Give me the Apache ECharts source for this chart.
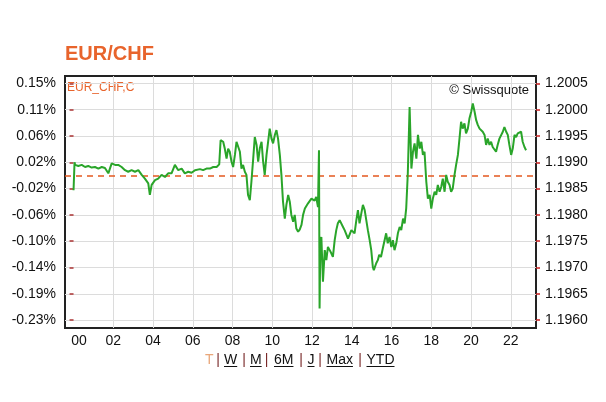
<!DOCTYPE html>
<html>
<head>
<meta charset="utf-8">
<script src="https://cdn.jsdelivr.net/npm/echarts@6/dist/echarts.min.js"></script>
<style>
    html, body { margin: 0; padding: 0; background: #fff; }
    #chart { width: 606px; height: 402px; }
</style>
</head>
<body>
<div id="chart"></div>
<script>
    // hours since midnight
    const hours = [
        0.00, 0.05, 0.08, 0.24, 0.41, 0.58, 0.74, 0.91, 1.08, 1.25, 1.42, 1.58, 1.75, 1.83, 1.92,
        2.09, 2.25, 2.42, 2.59, 2.75, 2.92, 3.09, 3.26, 3.43, 3.59, 3.76, 3.84, 3.93,
        4.10, 4.26, 4.43, 4.60, 4.76, 4.93, 5.10, 5.27, 5.44, 5.60, 5.77, 5.94,
        6.11, 6.19, 6.36, 6.52, 6.69, 6.86, 7.03, 7.20, 7.33, 7.40, 7.53, 7.61, 7.70, 7.78, 7.86, 7.95,
        8.03, 8.12, 8.20, 8.28, 8.37, 8.45, 8.53, 8.62, 8.70, 8.78, 8.87, 8.95,
        9.04, 9.12, 9.21, 9.29, 9.37, 9.46, 9.54, 9.62, 9.71, 9.79, 9.87, 9.96,
        10.04, 10.13, 10.21, 10.29, 10.38, 10.46, 10.54, 10.63, 10.71, 10.80, 10.88, 10.96,
        11.05, 11.13, 11.21, 11.30, 11.38, 11.47, 11.55, 11.64, 11.72, 11.80, 11.88, 11.97,
        12.05, 12.13, 12.21, 12.30, 12.35, 12.38, 12.42, 12.47, 12.55, 12.64, 12.72, 12.80, 12.89, 12.97,
        13.05, 13.14, 13.22, 13.30, 13.39, 13.48, 13.56, 13.64, 13.73, 13.81, 13.89, 13.98,
        14.06, 14.14, 14.23, 14.31, 14.39, 14.48, 14.56, 14.65, 14.73, 14.81, 14.90, 14.98,
        15.06, 15.11, 15.23, 15.31, 15.38, 15.47, 15.56, 15.64, 15.73, 15.81, 15.90, 15.99,
        16.07, 16.15, 16.24, 16.32, 16.41, 16.49, 16.58, 16.66, 16.74, 16.82, 16.91, 17.00,
        17.08, 17.16, 17.25, 17.33, 17.42, 17.50, 17.58, 17.66, 17.75, 17.83, 17.92,
        18.00, 18.08, 18.17, 18.25, 18.33, 18.42, 18.50, 18.58, 18.67, 18.75, 18.83, 18.92,
        19.00, 19.08, 19.17, 19.25, 19.34, 19.42, 19.50, 19.58, 19.67, 19.75, 19.84, 19.92,
        20.01, 20.09, 20.18, 20.26, 20.34, 20.43, 20.51, 20.59, 20.68, 20.76, 20.84, 20.93,
        21.01, 21.09, 21.18, 21.26, 21.34, 21.43, 21.51, 21.60, 21.68, 21.77, 21.85, 21.93,
        22.02, 22.10, 22.19, 22.27, 22.35, 22.44, 22.52, 22.60, 22.69, 22.77
    ]
    const rates = [
        1.19847, 1.19900, 1.19895, 1.19893, 1.19895, 1.19891, 1.19893, 1.19890, 1.19891, 1.19888, 1.19891, 1.19889, 1.19879, 1.19888, 1.19898,
        1.19895, 1.19895, 1.19891, 1.19885, 1.19882, 1.19885, 1.19882, 1.19885, 1.19876, 1.19869, 1.19860, 1.19838, 1.19857,
        1.19866, 1.19869, 1.19876, 1.19872, 1.19879, 1.19879, 1.19895, 1.19885, 1.19888, 1.19879, 1.19882, 1.19880,
        1.19885, 1.19885, 1.19887, 1.19885, 1.19888, 1.19888, 1.19891, 1.19891, 1.19896, 1.19942, 1.19939, 1.19926, 1.19907, 1.19926, 1.19920, 1.19901,
        1.19891, 1.19914, 1.19939, 1.19942, 1.19920, 1.19888, 1.19895, 1.19882, 1.19876, 1.19838, 1.19828, 1.19863,
        1.19907, 1.19948, 1.19933, 1.19901, 1.19926, 1.19939, 1.19901, 1.19876, 1.19914, 1.19939, 1.19964, 1.19945,
        1.19936, 1.19952, 1.19961, 1.19945, 1.19914, 1.19876, 1.19825, 1.19793, 1.19819, 1.19838, 1.19825, 1.19800,
        1.19787, 1.19800, 1.19774, 1.19768, 1.19772, 1.19781, 1.19800, 1.19812, 1.19810, 1.19822, 1.19822, 1.19831,
        1.19830, 1.19827, 1.19834, 1.19815, 1.19923, 1.19622, 1.19752, 1.19758, 1.19673, 1.19733, 1.19714, 1.19739, 1.19733, 1.19727,
        1.19720, 1.19752, 1.19771, 1.19784, 1.19790, 1.19787, 1.19777, 1.19771, 1.19768, 1.19755, 1.19752, 1.19771,
        1.19774, 1.19765, 1.19790, 1.19809, 1.19784, 1.19803, 1.19819, 1.19809, 1.19790, 1.19771, 1.19752, 1.19733,
        1.19701, 1.19695, 1.19708, 1.19714, 1.19724, 1.19720, 1.19736, 1.19733, 1.19765, 1.19746, 1.19758, 1.19739,
        1.19752, 1.19733, 1.19746, 1.19765, 1.19777, 1.19771, 1.19793, 1.19784, 1.19813, 1.19879, 1.20005, 1.19888,
        1.19920, 1.19936, 1.19907, 1.19952, 1.19926, 1.19939, 1.19914, 1.19920, 1.19863, 1.19831, 1.19838,
        1.19812, 1.19831, 1.19844, 1.19838, 1.19857, 1.19844, 1.19853, 1.19869, 1.19844, 1.19876, 1.19863, 1.19857,
        1.19844, 1.19850, 1.19876, 1.19895, 1.19914, 1.19945, 1.19977, 1.19964, 1.19974, 1.19955, 1.19964, 1.19983,
        1.19996, 1.20012, 1.19996, 1.19980, 1.19971, 1.19964, 1.19967, 1.19958, 1.19952, 1.19933, 1.19945, 1.19933,
        1.19939, 1.19929, 1.19926, 1.19920, 1.19933, 1.19945, 1.19948, 1.19958, 1.19967, 1.19958, 1.19952, 1.19933,
        1.19914, 1.19926, 1.19952, 1.19948, 1.19955, 1.19952, 1.19958, 1.19939, 1.19929, 1.19923
    ]
    const refRate = 1.19874
    const hourLabelTicks = [0, 2, 4, 6, 8, 10, 12, 14, 16, 18, 20, 22]
    const hourGridTicks = [2, 4, 6, 8, 10, 12, 14, 16, 18, 20, 22]
    const hourLabels = ['00', '02', '04', '06', '08', '10', '12', '14', '16', '18', '20', '22']
    const rateTicks = [1.1960, 1.1965, 1.1970, 1.1975, 1.1980, 1.1985, 1.1990, 1.1995, 1.2000, 1.2005]
    const rateLabels = ['1.1960', '1.1965', '1.1970', '1.1975', '1.1980', '1.1985', '1.1990', '1.1995', '1.2000', '1.2005']
    const pctLabels = ['-0.23%', '-0.19%', '-0.14%', '-0.10%', '-0.06%', '-0.02%', '0.02%', '0.06%', '0.11%', '0.15%']
    const linkWords = ['T', 'W', 'M', '6M', 'J', 'Max', 'YTD']

    const font = 'Liberation Sans, Arial, sans-serif'
    const xMin = -0.43
    const xMax = 23.27

    function nearest(arr, v) {
        let best = 0
        arr.forEach((t, i) => { if (Math.abs(t - v) < Math.abs(arr[best] - v)) best = i })
        return best
    }

    let seriesData = hours.map((h, i) => [h, rates[i]])

    // bottom links
    let measure = document.createElement('canvas').getContext('2d')
    measure.font = '14px Liberation Sans'
    let linkX = [205, 224, 250, 274, 307.5, 326.5, 366.5]
    let sepX = [218, 244, 266.5, 301, 320, 360]
    let links = []
    linkWords.forEach((w, i) => {
        links.push({
            type: 'text', left: linkX[i], top: 353,
            style: {text: w, font: '14px ' + font, fill: i === 0 ? '#e9a77a' : '#111'}
        })
        if (i > 0) {
            links.push({
                type: 'line',
                shape: {x1: linkX[i], y1: 366.5, x2: linkX[i] + measure.measureText(w).width, y2: 366.5},
                style: {stroke: '#111', lineWidth: 1}
            })
        }
    })
    sepX.forEach(x => {
        links.push({
            type: 'text', x: x, y: 353,
            style: {text: '|', font: '14px ' + font, fill: '#7a2a2a', align: 'center'}
        })
    })

    let myChart = echarts.init(document.getElementById('chart'))
    myChart.setOption({
        animation: false,
        backgroundColor: '#fff',
        grid: {
            left: 65, top: 76, right: 70, bottom: 74,
            show: true, borderColor: '#222', borderWidth: 2, backgroundColor: 'transparent'
        },
        xAxis: {
            type: 'value',
            min: xMin,
            max: xMax,
            axisLine: {show: false},
            axisTick: {show: false, customValues: hourGridTicks},
            splitLine: {show: true, lineStyle: {color: '#dcdcdc', width: 1}},
            axisLabel: {
                customValues: hourLabelTicks,
                margin: 6,
                color: '#111',
                fontSize: 14,
                fontFamily: font,
                formatter: function (v) {
                    let i = nearest(hourLabelTicks, v)
                    return i === 0 ? '{first|' + hourLabels[i] + '}' : hourLabels[i]
                },
                rich: {first: {padding: [0, 0, 0, 11], fontSize: 14, fontFamily: font, color: '#111'}}
            }
        },
        yAxis: [
            {
                type: 'value',
                position: 'left',
                min: 1.19585,
                max: 1.20064,
                axisLine: {show: false},
                axisTick: {show: true, length: 4, lineStyle: {color: '#a33', width: 1.5}, customValues: rateTicks},
                splitLine: {show: true, lineStyle: {color: '#dcdcdc', width: 1}},
                axisLabel: {
                    customValues: rateTicks,
                    margin: 9,
                    color: '#111',
                    fontSize: 14,
                    fontFamily: font,
                    formatter: function (v) {
                        return pctLabels[nearest(rateTicks, v)]
                    }
                }
            },
            {
                type: 'value',
                position: 'right',
                min: 1.19585,
                max: 1.20064,
                axisLine: {show: false},
                axisTick: {show: true, length: 4, lineStyle: {color: '#c22', width: 1.5}, customValues: rateTicks},
                splitLine: {show: false},
                axisLabel: {
                    customValues: rateTicks,
                    margin: 9,
                    color: '#111',
                    fontSize: 14,
                    fontFamily: font,
                    formatter: function (v) {
                        return rateLabels[nearest(rateTicks, v)]
                    }
                }
            }
        ],
        series: [
            {
                name: 'ref',
                type: 'line',
                yAxisIndex: 1,
                data: [[xMin, refRate], [xMax, refRate]],
                showSymbol: false,
                silent: true,
                lineStyle: {color: '#e4581f', type: [6, 5], width: 1.5, opacity: 1}
            },
            {
                name: 'EUR_CHF,C',
                type: 'line',
                yAxisIndex: 1,
                data: seriesData,
                showSymbol: false,
                lineStyle: {color: '#2aa52a', width: 2}
            }
        ],
        graphic: [
            {
                type: 'text', left: 65, top: 44,
                style: {text: 'EUR/CHF', font: 'bold 20px ' + font, fill: '#e8642c'}
            },
            {
                type: 'text', left: 67, top: 82,
                style: {text: 'EUR_CHF,C', font: '12px ' + font, fill: '#e8642c'}
            },
            {
                type: 'text', right: 77, top: 84,
                style: {text: '© Swissquote', font: '13px ' + font, fill: '#111'}
            }
        ].concat(links)
    })
</script>
</body>
</html>
